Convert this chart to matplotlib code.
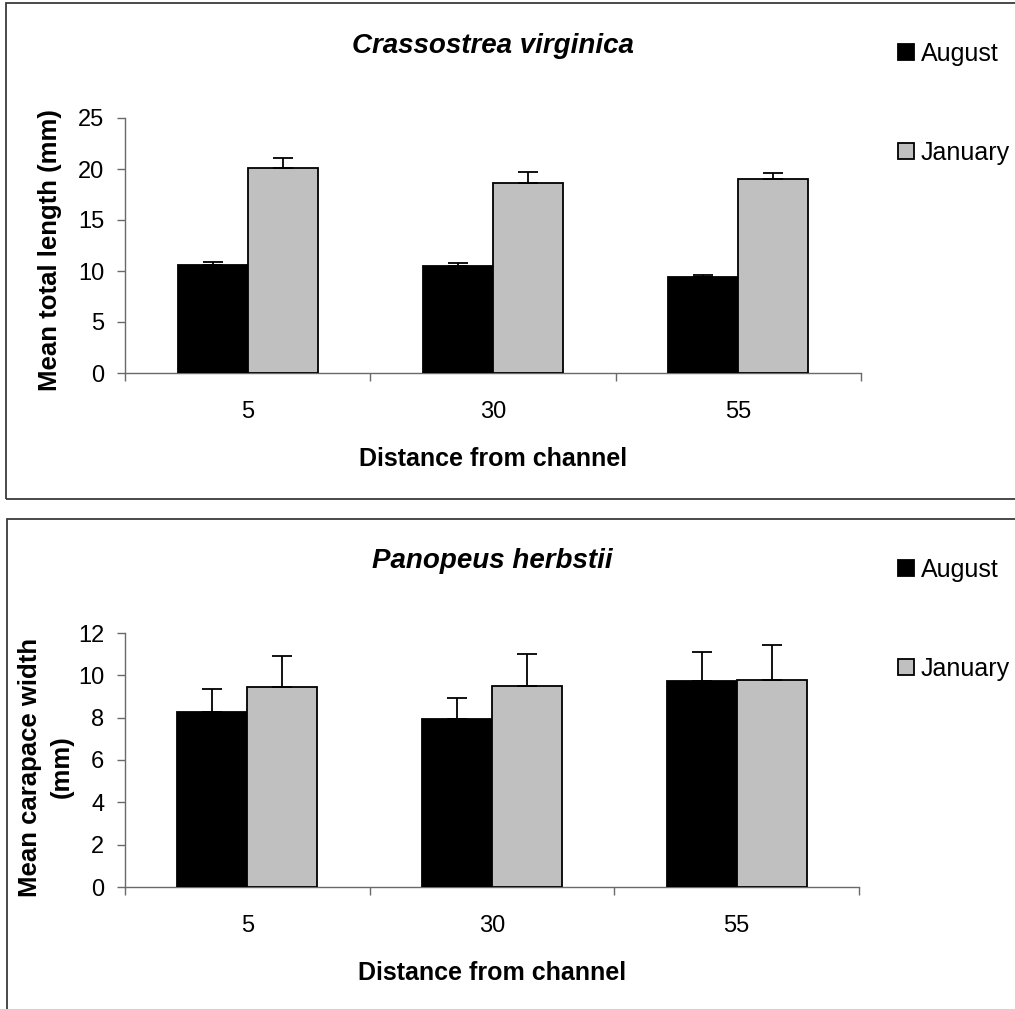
import matplotlib
matplotlib.use("Agg")
import matplotlib.pyplot as plt
from matplotlib.patches import Rectangle
import numpy as np

plt.rcParams['font.family'] = ['Liberation Sans', 'DejaVu Sans']

distances = ["5", "30", "55"]
seasons = ["August", "January"]

# Crassostrea virginica: mean total length (mm) and SE
oyster_aug = [10.6, 10.45, 9.45]
oyster_aug_se = [0.33, 0.33, 0.15]
oyster_jan = [20.1, 18.6, 19.0]
oyster_jan_se = [1.0, 1.15, 0.6]

# Panopeus herbstii: mean carapace width (mm) and SE
crab_aug = [8.25, 7.95, 9.75]
crab_aug_se = [1.1, 1.0, 1.37]
crab_jan = [9.43, 9.5, 9.8]
crab_jan_se = [1.5, 1.53, 1.62]

BAR_W = 1 / 3.5
EDGE = "black"
AXIS_GREY = "#6a6a6a"


def draw_panel(fig, rect, aug, aug_se, jan, jan_se, ymax, ystep, title, ylabel):
    ax = fig.add_axes(rect)
    x = np.arange(len(distances))
    ax.bar(x - BAR_W / 2, aug, BAR_W, color="black", edgecolor=EDGE, linewidth=1.3,
           yerr=[np.zeros(3), aug_se], error_kw=dict(ecolor="black", elinewidth=1.3,
                                                      capsize=7, capthick=1.3),
           label=seasons[0], zorder=3)
    ax.bar(x + BAR_W / 2, jan, BAR_W, color="#c0c0c0", edgecolor=EDGE, linewidth=1.3,
           yerr=[np.zeros(3), jan_se], error_kw=dict(ecolor="black", elinewidth=1.3,
                                                      capsize=7, capthick=1.3),
           label=seasons[1], zorder=3)

    ax.set_xlim(-0.5, len(distances) - 0.5)
    ax.set_ylim(0, ymax)
    ax.set_yticks(np.arange(0, ymax + 0.01, ystep))
    ax.set_xticks(x)
    ax.set_xticklabels(distances)
    ax.set_xticks(np.arange(-0.5, len(distances)), minor=True)

    for side in ("top", "right"):
        ax.spines[side].set_visible(False)
    for side in ("left", "bottom"):
        ax.spines[side].set_color(AXIS_GREY)
        ax.spines[side].set_linewidth(1.0)

    ax.tick_params(axis="x", which="major", length=0, pad=20, labelsize=17)
    ax.tick_params(axis="x", which="minor", length=6, width=1.0, color=AXIS_GREY,
                   direction="out")
    ax.tick_params(axis="y", length=6, width=1.0, color=AXIS_GREY, pad=9, labelsize=17)

    ax.set_xlabel("Distance from channel", fontsize=18, fontweight="bold")
    ax.xaxis.set_label_coords(0.5, -0.292)

    lab = ax.set_ylabel(ylabel, fontsize=18.5, fontweight="bold", linespacing=1.4)
    lab.set_va("center")
    lab.set_multialignment("center")

    ax.set_title(title, fontsize=20, fontweight="bold", fontstyle="italic",
                 y=1.283, va="center", pad=0)
    return ax


fig = plt.figure(figsize=(10.15, 10.09), dpi=100)
W, H = 1015.0, 1009.0

# panel frames
fig.patches.append(Rectangle((6 / W, 1 - 499 / H), 1.2, 496 / H, transform=fig.transFigure,
                             fill=False, edgecolor="#3a3a3a", linewidth=1.3))
fig.patches.append(Rectangle((7 / W, -0.1), 1.2, 1 - 519 / H + 0.1, transform=fig.transFigure,
                             fill=False, edgecolor="#3a3a3a", linewidth=1.3))

ax1 = draw_panel(fig, [125 / W, 1 - 373 / H, 736 / W, 255 / H],
                 oyster_aug, oyster_aug_se, oyster_jan, oyster_jan_se, 25, 5,
                 "Crassostrea virginica", "Mean total length (mm)")
ax1.yaxis.set_label_coords(-0.102, 0.482)

ax2 = draw_panel(fig, [125 / W, 1 - 887 / H, 734 / W, 254 / H],
                 crab_aug, crab_aug_se, crab_jan, crab_jan_se, 12, 2,
                 "Panopeus herbstii", "Mean carapace width\n(mm)")
ax2.yaxis.set_label_coords(-0.108, 0.472)

for ax, top in ((ax1, 42), (ax2, 558)):
    handles, labels = ax.get_legend_handles_labels()
    fig.legend(handles, labels, loc="upper left",
               bbox_to_anchor=(898 / W, 1 - top / H), frameon=False,
               fontsize=18, handlelength=0.62, handleheight=0.62,
               handletextpad=0.3, labelspacing=3.0, borderpad=0, borderaxespad=0)

fig.savefig("out.png", dpi=100)
